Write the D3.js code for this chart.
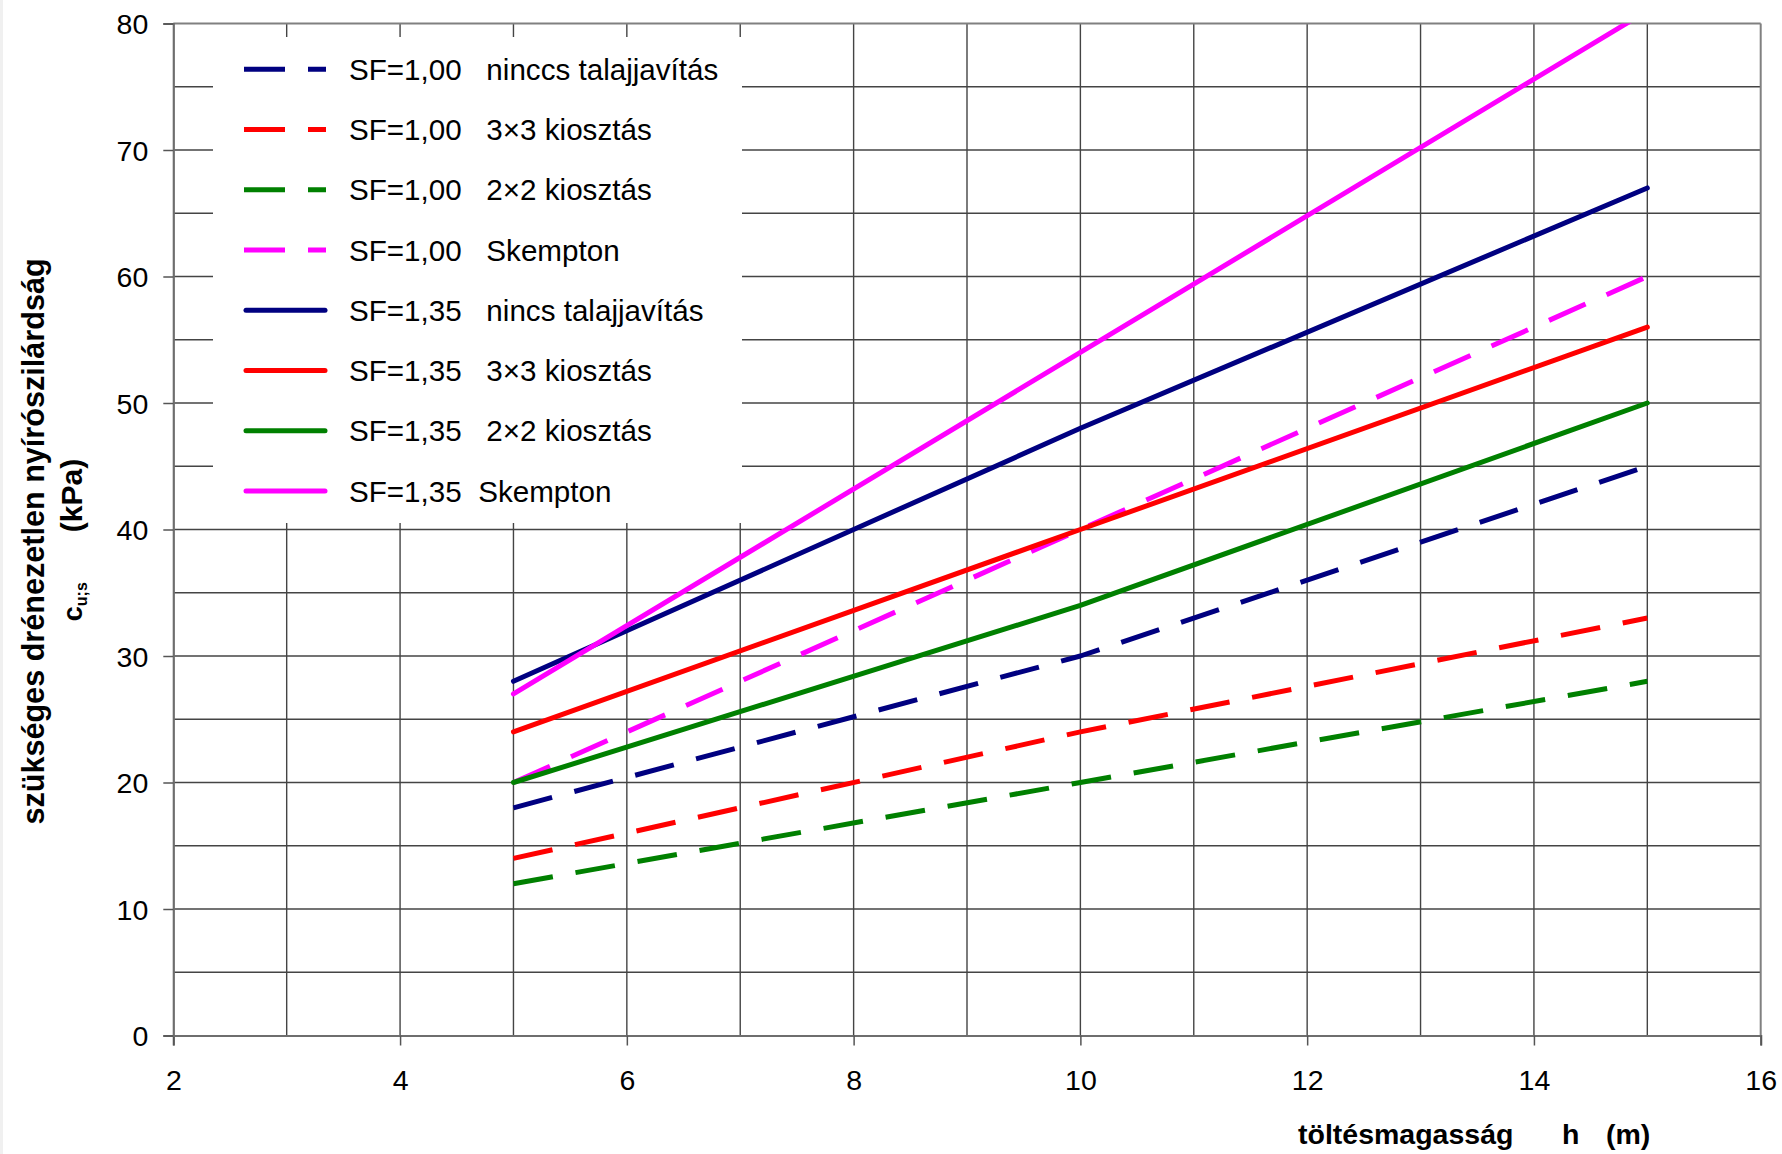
<!DOCTYPE html>
<html>
<head>
<meta charset="utf-8">
<script src="https://cdn.jsdelivr.net/npm/d3@7"></script>
<style>
  html, body { margin: 0; padding: 0; background: #ffffff; }
  svg { display: block; }
  text { font-family: "Liberation Sans", Arial, sans-serif; white-space: pre; }
</style>
</head>
<body>
<svg id="chart" width="1782" height="1154"></svg>
<script>
// ---- data ----
const hValues = [5, 10, 15];
const sf100Nincs = [18, 30, 45];
const sf100Kiosztas3x3 = [14, 24, 33];
const sf100Kiosztas2x2 = [12, 20, 28];
const sf100Skempton = [20, 40, 60];
const sf135Nincs = [28, 48, 67];
const sf135Kiosztas3x3 = [24, 40, 56];
const sf135Kiosztas2x2 = [20, 34, 50];
const sf135Skempton = [27, 54, 81];

const seriesNames = [
  "SF=1,00   ninccs talajjavítás",
  "SF=1,00   3×3 kiosztás",
  "SF=1,00   2×2 kiosztás",
  "SF=1,00   Skempton",
  "SF=1,35   nincs talajjavítás",
  "SF=1,35   3×3 kiosztás",
  "SF=1,35   2×2 kiosztás",
  "SF=1,35  Skempton"
];
const seriesValues = [sf100Nincs, sf100Kiosztas3x3, sf100Kiosztas2x2, sf100Skempton,
                      sf135Nincs, sf135Kiosztas3x3, sf135Kiosztas2x2, sf135Skempton];
const seriesColors = ["#000080", "#ff0000", "#008000", "#ff00ff",
                      "#000080", "#ff0000", "#008000", "#ff00ff"];
const seriesDashed = [true, true, true, true, false, false, false, false];

const xTicks = [2, 4, 6, 8, 10, 12, 14, 16];
const yTicks = [0, 10, 20, 30, 40, 50, 60, 70, 80];
const xGrid = d3.range(3, 16, 1);
const yGrid = d3.range(5, 80, 5);

// ---- layout ----
const svg = d3.select("#chart");
const L = 173.3, R = 1760.7, T = 23.5, B = 1035.5;
const x = d3.scaleLinear().domain([2, 16]).range([L, R]);
const y = d3.scaleLinear().domain([0, 80]).range([B, T]);

svg.append("rect").attr("x", 0).attr("y", 0).attr("width", 3).attr("height", 1154).attr("fill", "#f0f0f0");

svg.append("defs").append("clipPath").attr("id", "plotclip")
  .append("rect").attr("x", L).attr("y", T).attr("width", R - L).attr("height", B - T);

// grid
const grid = svg.append("g");
grid.selectAll("line.v").data(xGrid).join("line")
  .attr("x1", d => x(d)).attr("x2", d => x(d)).attr("y1", T).attr("y2", B)
  .attr("stroke", "#444").attr("stroke-width", 1.4);
grid.selectAll("line.h").data(yGrid).join("line")
  .attr("x1", L).attr("x2", R).attr("y1", d => y(d)).attr("y2", d => y(d))
  .attr("stroke", "#444").attr("stroke-width", 1.4);

// border (top/right)
svg.append("line").attr("x1", L).attr("x2", R).attr("y1", T).attr("y2", T).attr("stroke", "#808080").attr("stroke-width", 2);
svg.append("line").attr("x1", R).attr("x2", R).attr("y1", T).attr("y2", B).attr("stroke", "#808080").attr("stroke-width", 2);

// axes
const xAxis = d3.axisBottom(x).tickValues(xTicks).tickSize(10).tickPadding(20).tickFormat(d3.format("d"));
const yAxis = d3.axisLeft(y).tickValues(yTicks).tickSize(10).tickPadding(16).tickFormat(d3.format("d"));
const gx = svg.append("g").attr("transform", `translate(0,${B})`).call(xAxis);
const gy = svg.append("g").attr("transform", `translate(${L},0)`).call(yAxis);
[gx, gy].forEach(g => {
  g.select(".domain").attr("stroke", "#6e6e6e").attr("stroke-width", 2.2);
  g.selectAll(".tick line").attr("stroke", "#555").attr("stroke-width", 1.5);
  g.selectAll(".tick text").attr("fill", "#000").style("font-size", "28.5px")
    .style("font-family", "'Liberation Sans', Arial, sans-serif");
});
gx.selectAll(".tick text").attr("dy", null).attr("y", 54);
gy.selectAll(".tick text").attr("dy", "0.36em").attr("x", -25);

// legend box
const legendG = svg.append("g");
legendG.append("rect").attr("x", 213).attr("y", 37).attr("width", 742 - 213).attr("height", 523 - 37).attr("fill", "#fff");

// series lines
const line = d3.line().x(d => x(d[0])).y(d => y(d[1]));
const linesG = svg.append("g").attr("clip-path", "url(#plotclip)");
seriesValues.forEach((vals, i) => {
  linesG.append("path")
    .datum(hValues.map((h, j) => [h, vals[j]]))
    .attr("d", line)
    .attr("fill", "none")
    .attr("stroke", seriesColors[i])
    .attr("stroke-width", 5)
    .attr("stroke-dasharray", seriesDashed[i] ? "40,23" : null)
    .attr("stroke-linecap", seriesDashed[i] ? "butt" : "round")
    .attr("stroke-linejoin", "round");
});

// legend entries
seriesNames.forEach((name, i) => {
  const cy = 69.3 + i * 60.25;
  legendG.append("line")
    .attr("x1", seriesDashed[i] ? 244 : 246).attr("x2", seriesDashed[i] ? 326 : 325)
    .attr("y1", cy).attr("y2", cy)
    .attr("stroke", seriesColors[i]).attr("stroke-width", 5)
    .attr("stroke-dasharray", seriesDashed[i] ? "41,23" : null)
    .attr("stroke-linecap", seriesDashed[i] ? "butt" : "round");
  legendG.append("text")
    .attr("x", 349).attr("y", cy + 10.5)
    .style("font-size", "29.6px").attr("fill", "#000")
    .text(name);
});

// x axis title
const xtStyle = s => s.style("font-size", "28.5px").style("font-weight", "bold");
svg.append("text").attr("x", 1298).attr("y", 1144).call(xtStyle).text("töltésmagasság");
svg.append("text").attr("x", 1562).attr("y", 1144).call(xtStyle).text("h");
svg.append("text").attr("x", 1606).attr("y", 1144).call(xtStyle).text("(m)");

// y axis title
const yt = svg.append("g").attr("transform", "translate(44,541.5) rotate(-90)");
yt.append("text").attr("x", 0).attr("y", 0).attr("text-anchor", "middle")
  .style("font-size", "30.6px").style("font-weight", "bold")
  .text("szükséges drénezetlen nyírószilárdság");
const t2 = svg.append("g").attr("transform", "translate(82,540) rotate(-90)")
  .append("text").attr("x", 0).attr("y", 0).attr("text-anchor", "middle")
  .style("font-weight", "bold");
t2.append("tspan").style("font-size", "27px").text("c");
t2.append("tspan").style("font-size", "16px").attr("dy", 5).text("u;s");
t2.append("tspan").style("font-size", "30px").attr("dy", -5).text("      (kPa)");
</script>
</body>
</html>
